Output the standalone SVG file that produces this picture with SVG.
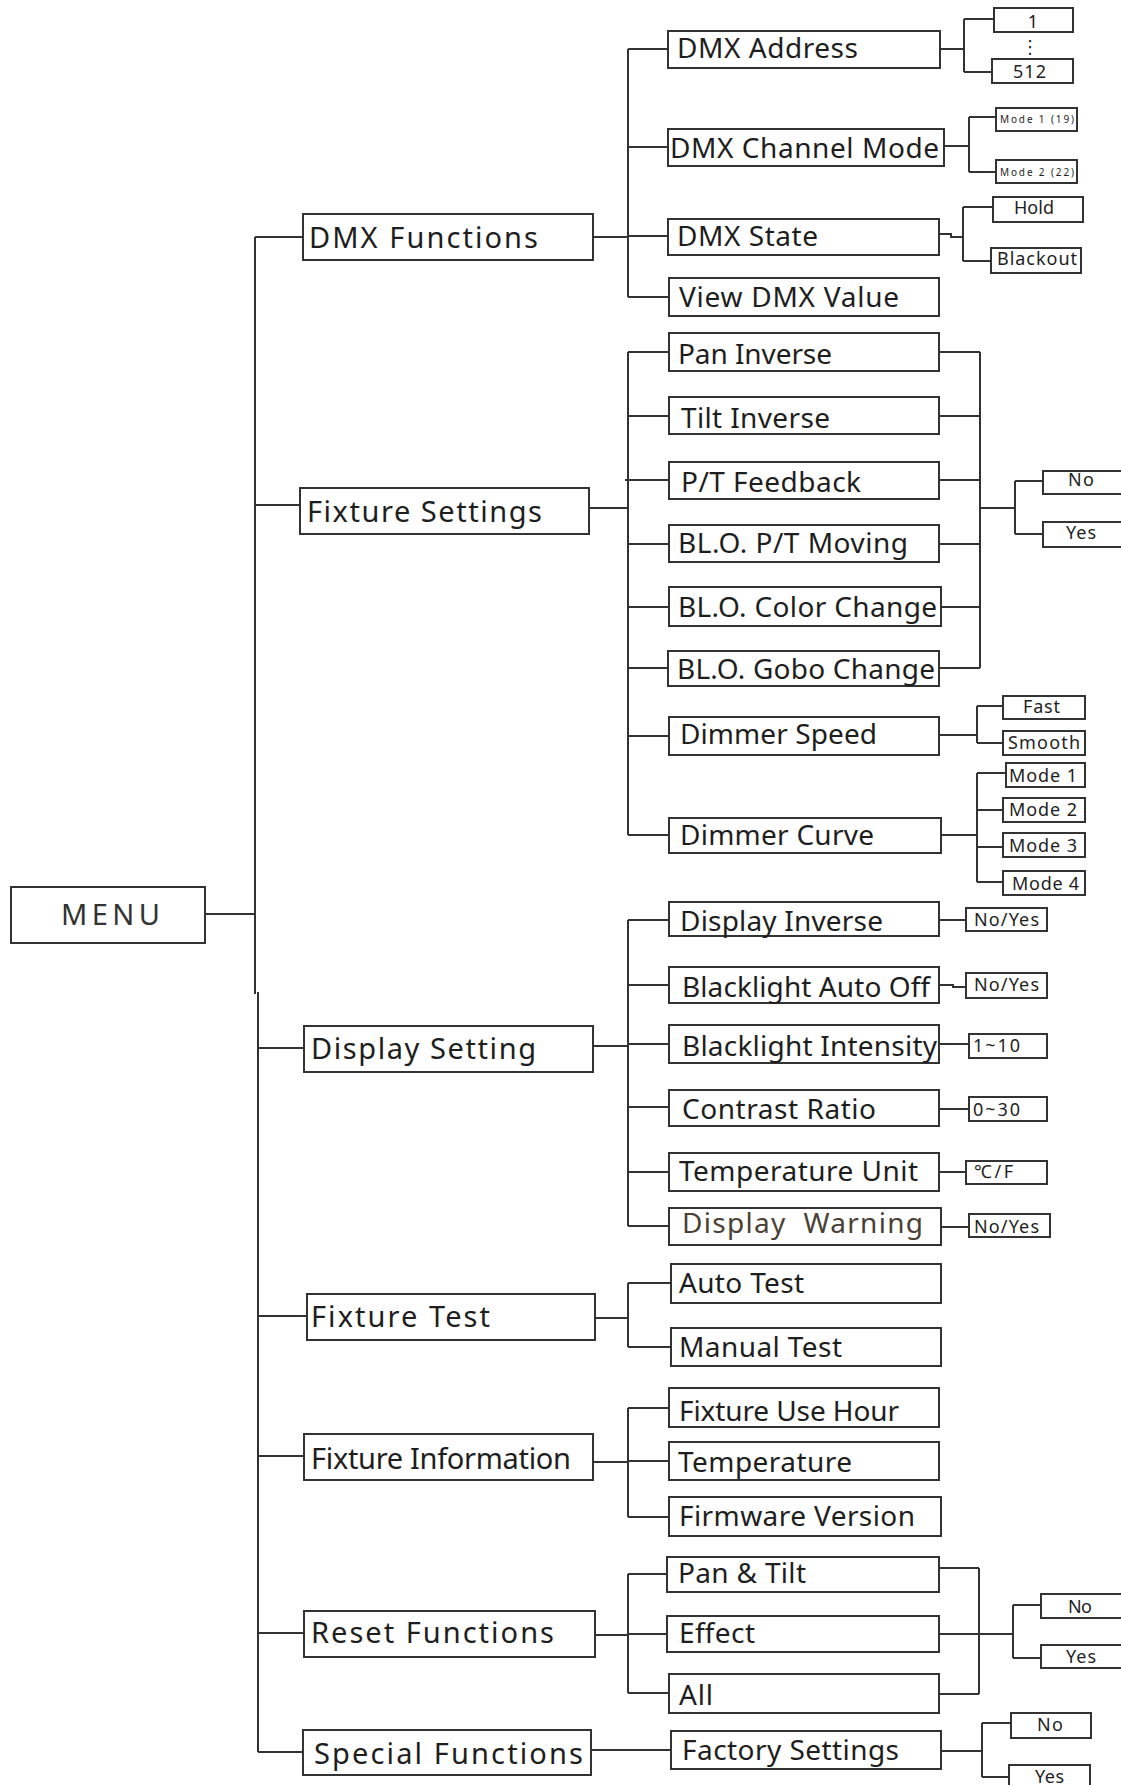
<svg xmlns="http://www.w3.org/2000/svg" width="1121" height="1785" viewBox="0 0 1121 1785">
<style>
rect{fill:#fff;stroke:#333;stroke-width:2}
.c path{fill:none;stroke:#333;stroke-width:2}
text{font-family:"Noto Sans","DejaVu Sans",sans-serif;fill:#1e1e1e}
.l{font-size:29px}
.m{font-size:28px}
.s{font-size:18px}
.xs{font-size:10px}
</style>
<rect x="0" y="0" width="1121" height="1785" style="stroke:none"/>
<g class="c" id="connectors">
<path d="M205 914H255M255 237V994M258 992V1752M255 237H303M255 505H300M258 1048H304M258 1316H307M258 1456H304M258 1633H304M258 1752H303"/>
<path d="M593 237H628M628 49V297M628 49H668M628 147H668M628 236H668M628 297H669"/>
<path d="M940 49H964M964 19V72M964 19H994M964 72H992"/>
<path d="M944 146H969M969 117V172M969 117H996M969 172H996"/>
<path d="M939 234H951V237H963M963 207V261M963 207H993M963 261H991"/>
<path d="M589 508H628M628 352V835M628 352H669M628 416H669M625 480H669M628 544H669M628 607H669M628 668H668M628 736H669M628 835H669"/>
<path d="M939 352H980M939 416H980M939 480H980M939 544H980M941 607H980M939 668H980M980 352V668M980 508H1015M1015 481V534M1015 481H1043M1015 534H1043"/>
<path d="M939 735H977M977 706V743M977 706H1003M977 743H1003"/>
<path d="M941 835H977M977 773V882M977 773H1006M977 810H1003M977 847H1003M977 882H1003"/>
<path d="M593 1046H628M628 920V1226M628 920H669M628 985H669M628 1044H669M628 1107H669M628 1172H669M628 1226H669"/>
<path d="M939 920H966M939 985H953V987H966M939 1044H969M939 1109H969M939 1172H966M941 1227H969"/>
<path d="M595 1318H628M628 1283V1347M628 1283H671M628 1347H671"/>
<path d="M593 1462H628M628 1408V1517M628 1408H669M628 1461H669M628 1517H669"/>
<path d="M594 1635H628M628 1574V1693M628 1574H667M628 1634H667M628 1693H669"/>
<path d="M939 1568H979M939 1694H979M979 1568V1694M939 1634H1013M1013 1605V1658M1013 1605H1041M1013 1658H1041"/>
<path d="M590 1750H671M941 1751H982M982 1723V1777M982 1723H1011M982 1777H1009"/>
</g>
<g id="menu"><rect x="11" y="887" width="194" height="56"/><text class="l" x="61" y="925" textLength="99" style="fill:#333">MENU</text></g>
<g id="dmx-functions"><rect x="303" y="214" width="290" height="46"/><text class="l" x="309" y="248" textLength="229">DMX Functions</text></g>
<g id="fixture-settings"><rect x="300" y="488" width="289" height="46"/><text class="l" x="307" y="522" textLength="235">Fixture Settings</text></g>
<g id="display-setting"><rect x="304" y="1026" width="289" height="46"/><text class="l" x="311" y="1059" textLength="225">Display Setting</text></g>
<g id="fixture-test"><rect x="307" y="1294" width="288" height="46"/><text class="l" x="311" y="1327" textLength="179">Fixture Test</text></g>
<g id="fixture-information"><rect x="304" y="1434" width="289" height="46"/><text class="l" x="311" y="1469" textLength="260">Fixture Information</text></g>
<g id="reset-functions"><rect x="304" y="1611" width="291" height="46"/><text class="l" x="311" y="1643" textLength="243">Reset Functions</text></g>
<g id="special-functions"><rect x="303" y="1730" width="288" height="45"/><text class="l" x="314" y="1764" textLength="269">Special Functions</text></g>

<g id="dmx-address"><rect x="668" y="31" width="272" height="37"/><text class="m" x="677" y="58" textLength="181">DMX Address</text></g>
<g id="dmx-channel-mode"><rect x="668" y="129" width="276" height="37"/><text class="m" x="670" y="158" textLength="269">DMX Channel Mode</text></g>
<g id="dmx-state"><rect x="668" y="219" width="271" height="36"/><text class="m" x="677" y="246" textLength="141">DMX State</text></g>
<g id="view-dmx-value"><rect x="669" y="278" width="270" height="38"/><text class="m" x="679" y="307" textLength="220">View DMX Value</text></g>
<g id="pan-inverse"><rect x="669" y="333" width="270" height="38"/><text class="m" x="678" y="364" textLength="154">Pan Inverse</text></g>
<g id="tilt-inverse"><rect x="669" y="397" width="270" height="37"/><text class="m" x="681" y="428" textLength="149">Tilt Inverse</text></g>
<g id="pt-feedback"><rect x="669" y="462" width="270" height="37"/><text class="m" x="681" y="492" textLength="180">P/T Feedback</text></g>
<g id="blo-pt-moving"><rect x="669" y="525" width="270" height="37"/><text class="m" x="678" y="553" textLength="230">BL.O. P/T Moving</text></g>
<g id="blo-color-change"><rect x="669" y="587" width="272" height="39"/><text class="m" x="678" y="617" textLength="259">BL.O. Color Change</text></g>
<g id="blo-gobo-change"><rect x="668" y="651" width="271" height="35"/><text class="m" x="677" y="679" textLength="258">BL.O. Gobo Change</text></g>
<g id="dimmer-speed"><rect x="669" y="717" width="270" height="38"/><text class="m" x="680" y="744" textLength="197">Dimmer Speed</text></g>
<g id="dimmer-curve"><rect x="669" y="818" width="272" height="35"/><text class="m" x="680" y="845" textLength="194">Dimmer Curve</text></g>
<g id="display-inverse"><rect x="669" y="902" width="270" height="34"/><text class="m" x="680" y="931" textLength="203">Display Inverse</text></g>
<g id="blacklight-auto-off"><rect x="669" y="967" width="270" height="36"/><text class="m" x="682" y="997" textLength="248">Blacklight Auto Off</text></g>
<g id="blacklight-intensity"><rect x="669" y="1025" width="270" height="38"/><text class="m" x="682" y="1056" textLength="255">Blacklight Intensity</text></g>
<g id="contrast-ratio"><rect x="669" y="1090" width="270" height="36"/><text class="m" x="682" y="1119" textLength="194">Contrast Ratio</text></g>
<g id="temperature-unit"><rect x="669" y="1153" width="270" height="38"/><text class="m" x="679" y="1181" textLength="239">Temperature Unit</text></g>
<g id="display-warning"><rect x="669" y="1208" width="272" height="37"/><text class="m" x="682" y="1233" textLength="241" xml:space="preserve" style="fill:#4a4036">Display  Warning</text></g>
<g id="auto-test"><rect x="671" y="1264" width="270" height="39"/><text class="m" x="679" y="1293" textLength="125">Auto Test</text></g>
<g id="manual-test"><rect x="671" y="1328" width="270" height="38"/><text class="m" x="679" y="1357" textLength="163">Manual Test</text></g>
<g id="fixture-use-hour"><rect x="669" y="1388" width="270" height="39"/><text class="m" x="679" y="1421" textLength="220">Fixture Use Hour</text></g>
<g id="temperature"><rect x="669" y="1442" width="270" height="38"/><text class="m" x="678" y="1472" textLength="174">Temperature</text></g>
<g id="firmware-version"><rect x="669" y="1497" width="272" height="39"/><text class="m" x="679" y="1526" textLength="236">Firmware Version</text></g>
<g id="pan-tilt"><rect x="667" y="1557" width="272" height="35"/><text class="m" x="678" y="1583" textLength="128">Pan &amp; Tilt</text></g>
<g id="effect"><rect x="667" y="1616" width="272" height="36"/><text class="m" x="679" y="1643" textLength="76">Effect</text></g>
<g id="all"><rect x="669" y="1674" width="270" height="39"/><text class="m" x="679" y="1705" textLength="34">All</text></g>
<g id="factory-settings"><rect x="671" y="1731" width="270" height="38"/><text class="m" x="682" y="1760" textLength="217">Factory Settings</text></g>

<g id="addr-1"><rect x="994" y="8" width="79" height="24"/><text class="s" x="1033" y="28" text-anchor="middle">1</text></g>
<g id="addr-dots"><text class="s" x="1030" y="53" text-anchor="middle">⋮</text></g>
<g id="addr-512"><rect x="992" y="59" width="81" height="24"/><text class="s" x="1013" y="78" textLength="33">512</text></g>
<g id="mode1-19"><rect x="996" y="108" width="81" height="23"/><text class="xs" x="1000" y="123" textLength="74">Mode 1 (19)</text></g>
<g id="mode2-22"><rect x="996" y="160" width="81" height="23"/><text class="xs" x="1000" y="176" textLength="74">Mode 2 (22)</text></g>
<g id="hold"><rect x="993" y="197" width="90" height="25"/><text class="s" x="1014" y="214" textLength="40">Hold</text></g>
<g id="blackout"><rect x="991" y="248" width="90" height="25"/><text class="s" x="997" y="265" textLength="80">Blackout</text></g>
<g id="fs-no"><rect x="1043" y="471" width="90" height="23"/><text class="s" x="1068" y="486" textLength="26">No</text></g>
<g id="fs-yes"><rect x="1043" y="522" width="90" height="25"/><text class="s" x="1066" y="539" textLength="30">Yes</text></g>
<g id="fast"><rect x="1003" y="696" width="82" height="23"/><text class="s" x="1023" y="713" textLength="37">Fast</text></g>
<g id="smooth"><rect x="1003" y="731" width="82" height="24"/><text class="s" x="1008" y="749" textLength="72">Smooth</text></g>
<g id="mode-1"><rect x="1006" y="763" width="79" height="24"/><text class="s" x="1009" y="782" textLength="68">Mode 1</text></g>
<g id="mode-2"><rect x="1003" y="798" width="82" height="24"/><text class="s" x="1009" y="816" textLength="68">Mode 2</text></g>
<g id="mode-3"><rect x="1003" y="833" width="82" height="24"/><text class="s" x="1009" y="852" textLength="68">Mode 3</text></g>
<g id="mode-4"><rect x="1003" y="871" width="82" height="24"/><text class="s" x="1012" y="890" textLength="67">Mode 4</text></g>
<g id="di-noyes"><rect x="966" y="908" width="81" height="23"/><text class="s" x="974" y="926" textLength="65">No/Yes</text></g>
<g id="bao-noyes"><rect x="966" y="973" width="81" height="25"/><text class="s" x="974" y="991" textLength="65">No/Yes</text></g>
<g id="bi-range"><rect x="969" y="1034" width="78" height="24"/><text class="s" x="973" y="1052" textLength="47">1~10</text></g>
<g id="cr-range"><rect x="969" y="1097" width="78" height="24"/><text class="s" x="973" y="1116" textLength="47">0~30</text></g>
<g id="tu-unit"><rect x="966" y="1161" width="81" height="23"/><text class="s" x="974" y="1178" textLength="39">℃/F</text></g>
<g id="dw-noyes"><rect x="969" y="1214" width="81" height="23"/><text class="s" x="974" y="1233" textLength="65">No/Yes</text></g>
<g id="rs-no"><rect x="1041" y="1594" width="90" height="24"/><text class="s" x="1068" y="1613" textLength="24">No</text></g>
<g id="rs-yes"><rect x="1041" y="1645" width="90" height="23"/><text class="s" x="1066" y="1663" textLength="30">Yes</text></g>
<g id="fac-no"><rect x="1011" y="1713" width="80" height="25"/><text class="s" x="1037" y="1731" textLength="26">No</text></g>
<g id="fac-yes"><rect x="1009" y="1765" width="81" height="30"/><text class="s" x="1035" y="1783" textLength="29">Yes</text></g>
</svg>
